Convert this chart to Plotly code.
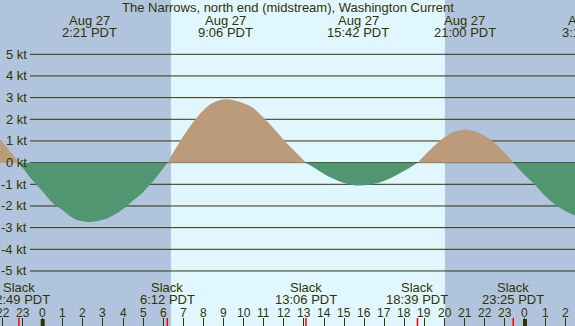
import plotly.graph_objects as go

# ---- data (hours relative to Aug 27 00:00 PDT, current in knots) ----
title = "The Narrows, north end (midstream), Washington Current"

# current segments between slack waters
seg_times = [
    [-2.6, -2.125, -1.5, -1.183],
    [-1.183, -0.5, 0.0, 0.5, 1.0, 1.5, 2.0, 2.35, 3.0, 3.5, 4.0, 4.5, 5.0, 5.5, 6.0, 6.2],
    [6.2, 6.5, 7.0, 7.5, 8.0, 8.5, 9.1, 9.5, 10.0, 10.5, 11.0, 11.5, 12.0, 12.5, 13.1],
    [13.1, 13.5, 14.0, 14.5, 15.0, 15.5, 15.8, 16.5, 17.0, 17.5, 18.0, 18.65],
    [18.65, 19.0, 19.5, 20.0, 20.5, 21.0, 21.5, 22.0, 22.5, 23.0, 23.417],
    [23.417, 24.0, 24.5, 25.0, 25.5, 26.0, 26.5, 27.0],
]
seg_values = [
    [1.51, 1.07, 0.38, 0.0],
    [0.0, -0.82, -1.33, -1.86, -2.2, -2.55, -2.71, -2.74, -2.64, -2.44, -2.14, -1.75, -1.35, -0.85, -0.25, 0.0],
    [0.0, 0.47, 1.23, 1.89, 2.42, 2.77, 2.92, 2.88, 2.74, 2.5, 2.06, 1.58, 1.05, 0.57, 0.0],
    [0.0, -0.23, -0.52, -0.76, -0.94, -1.04, -1.06, -0.98, -0.84, -0.63, -0.38, 0.0],
    [0.0, 0.33, 0.79, 1.17, 1.42, 1.52, 1.45, 1.24, 0.89, 0.44, 0.0],
    [0.0, -0.58, -1.02, -1.54, -1.93, -2.23, -2.44, -2.54],
]

# maximum current events (top labels)
max_times = [2.35, 9.1, 15.7, 21.0, 27.183]
max_dates = ["Aug 27", "Aug 27", "Aug 27", "Aug 27", "Aug 28"]
max_labels = ["2:21 PDT", "9:06 PDT", "15:42 PDT", "21:00 PDT", "3:11 PDT"]

# slack water events (bottom labels)
slack_times = [-1.183, 6.2, 13.1, 18.65, 23.417]
slack_labels = ["22:49 PDT", "6:12 PDT", "13:06 PDT", "18:39 PDT", "23:25 PDT"]

# daylight
sunrise = 6.383
sunset = 20.017

# axes
x_range = [-2.125, 26.49]
y_range = [-7.54, 7.506]
knot_levels = [5, 4, 3, 2, 1, 0, -1, -2, -3, -4, -5]
hour_ticks = list(range(-2, 27))
hour_labels = [str(h % 24) for h in hour_ticks]
midnights = [0, 24]

# ---- style ----
night = "#b0c4de"
day = "#e0f7ff"
flood_col = "#bc9b7a"
ebb_col = "#509671"
ink = "#333300"
font = "Liberation Sans"

fig = go.Figure()

for t, v in zip(seg_times, seg_values):
    col = flood_col if max(v) > 0 else ebb_col
    fig.add_trace(go.Scatter(x=t, y=v, mode="lines", line=dict(width=0, shape="spline", color=col),
                             fill="tozeroy", fillcolor=col, hoverinfo="skip", showlegend=False))

annotations = []


def text_row(xs, texts, y, size=13):
    """Event labels; those past the axis range are placed via paper coords so they stay visible."""
    span = x_range[1] - x_range[0]
    for x, t in zip(xs, texts):
        if x_range[0] <= x <= x_range[1]:
            annotations.append(dict(xref="x", yref="y", x=x, y=y, text=t, showarrow=False,
                                    xanchor="center", yanchor="middle",
                                    font=dict(family=font, size=size, color=ink)))
        else:
            annotations.append(dict(xref="paper", yref="y", x=(x - x_range[0]) / span, y=y, text=t,
                                    showarrow=False, xanchor="center", yanchor="middle",
                                    font=dict(family=font, size=size, color=ink)))


text_row(max_times, max_dates, 6.55)
text_row(max_times, max_labels, 6.0)
text_row(slack_times, ["Slack"] * len(slack_times), -5.78)
text_row(slack_times, slack_labels, -6.33)
text_row(hour_ticks, hour_labels, -6.92, size=12)

shapes = [dict(type="rect", xref="x", yref="paper", x0=sunrise, x1=sunset, y0=0, y1=1,
               fillcolor=day, line=dict(width=0), layer="below")]
for k in knot_levels:
    shapes.append(dict(type="line", xref="paper", yref="y", x0=30 / 575, x1=1, y0=k, y1=k,
                       line=dict(color=ink, width=1), layer="below"))
for m in midnights:
    shapes.append(dict(type="line", xref="x", yref="paper", x0=m, x1=m, y0=0, y1=7 / 326,
                       line=dict(color=ink, width=4)))
for s in slack_times:
    shapes.append(dict(type="line", xref="x", yref="paper", x0=s, x1=s, y0=0, y1=8 / 326,
                       line=dict(color="red", width=1.5)))

annotations += [dict(xref="paper", yref="y", x=29 / 575, y=k, text=f"{k} kt", showarrow=False,
                     xanchor="right", yanchor="middle", font=dict(family=font, size=13, color=ink))
                for k in knot_levels]
annotations.append(dict(xref="paper", yref="paper", x=0.5, y=1 - 7.5 / 326, text=title,
                        showarrow=False, xanchor="center", yanchor="middle",
                        font=dict(family=font, size=13, color=ink)))

fig.update_layout(
    width=575, height=326, margin=dict(l=0, r=0, t=0, b=0),
    paper_bgcolor=night, plot_bgcolor=night,
    shapes=shapes, annotations=annotations, showlegend=False,
    xaxis=dict(range=x_range, tickvals=hour_ticks, ticks="inside", ticklen=8, tickwidth=1,
               tickcolor=ink, showticklabels=False, showgrid=False, zeroline=False, showline=False,
               fixedrange=True),
    yaxis=dict(range=y_range, showticklabels=False, showgrid=False, zeroline=False, showline=False,
               ticks="", fixedrange=True),
)

fig.write_html("out.html", config={"displayModeBar": False},
               post_script="document.body.style.margin='0';document.body.style.overflow='hidden';")
